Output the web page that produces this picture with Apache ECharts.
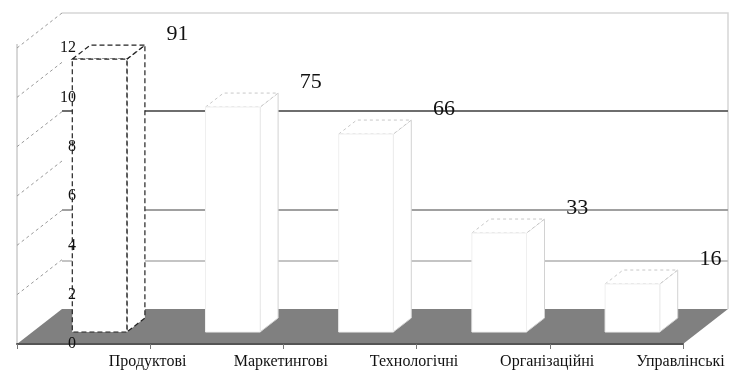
<!DOCTYPE html>
<html>
<head>
<meta charset="utf-8">
<script src="https://cdn.jsdelivr.net/npm/echarts@6/dist/echarts.min.js"></script>
<style>
  html, body { margin: 0; padding: 0; background: #fff; }
  #chart { width: 744px; height: 380px; }
</style>
</head>
<body>
<div id="chart"></div>
<script>
var categories = ['Продуктові', 'Маркетингові', 'Технологічні', 'Організаційні', 'Управлінські'];
var values = [91, 75, 66, 33, 16];
var yTicks = [0, 2, 4, 6, 8, 10, 12];
var wallLines = [66, 33, 16];

// fake 3d: offsets of the planes behind the front axis
var WALL = [45, -35];
var BAR_FRONT = [16, -12];
var BAR_DEPTH = [18, -14];
var wallColors = ['#6e6e6e', '#a0a0a0', '#c4c4c4'];

function renderWalls(params, api) {
  var cs = params.coordSys;
  var y0 = api.coord([0, 0])[1];
  var x0 = cs.x, x1 = cs.x + cs.width;
  var dx = WALL[0], dy = WALL[1];
  var top = cs.y + dy;
  var children = [];
  children.push({
    type: 'polygon',
    shape: { points: [[x0, y0], [x1, y0], [x1 + dx, y0 + dy], [x0 + dx, y0 + dy]] },
    style: { fill: '#808080' }
  });
  children.push({
    type: 'polyline',
    shape: { points: [[x0 + dx, top], [x1 + dx, top], [x1 + dx, y0 + dy]] },
    style: { stroke: '#d6d6d6', lineWidth: 1.5, fill: null }
  });
  wallLines.forEach(function (v, i) {
    var y = api.coord([0, v])[1] + dy;
    children.push({
      type: 'line',
      shape: { x1: x0 + dx, y1: y, x2: x1 + dx, y2: y },
      style: { stroke: wallColors[i], lineWidth: 2 }
    });
  });
  return { type: 'group', children: children };
}

function renderSide(params, api) {
  var cs = params.coordSys;
  var dx = WALL[0], dy = WALL[1];
  var children = [];
  var yTop = api.coord([0, yTicks[yTicks.length - 1]])[1];
  var yBot = api.coord([0, 0])[1];
  children.push({
    type: 'line',
    shape: { x1: cs.x, y1: yTop - 4, x2: cs.x, y2: yBot },
    style: { stroke: '#b0b0b0', lineWidth: 1 }
  });
  yTicks.forEach(function (t) {
    if (t === 0) return;
    var y = api.coord([0, t])[1];
    children.push({
      type: 'line',
      shape: { x1: cs.x, y1: y, x2: cs.x + dx, y2: y + dy },
      style: { stroke: '#9a9a9a', lineWidth: 1, lineDash: [3, 3] }
    });
  });
  return { type: 'group', children: children };
}

function renderBar(params, api) {
  var i = api.value(0), v = api.value(1);
  var base = api.coord([i, 0]);
  var topP = api.coord([i, v]);
  var w = api.size([1, 0])[0] * 0.41;
  var cx = base[0] + BAR_FRONT[0];
  var yb = base[1] + BAR_FRONT[1];
  var yt = topP[1] + BAR_FRONT[1];
  var l = cx - w / 2, r = cx + w / 2;
  var ddx = BAR_DEPTH[0], ddy = BAR_DEPTH[1];
  var first = i === 0;
  var edge = first ? { stroke: '#222', lineWidth: 1.2, lineDash: [5, 3] }
                   : { stroke: '#d2d2d2', lineWidth: 1 };
  var topEdge = first ? edge : { stroke: '#c8c8c8', lineWidth: 1, lineDash: [3, 3] };
  return {
    type: 'group',
    children: [
      { type: 'polygon',
        shape: { points: [[r, yt], [r + ddx, yt + ddy], [r + ddx, yb + ddy], [r, yb]] },
        style: Object.assign({ fill: '#fff' }, edge) },
      { type: 'polygon',
        shape: { points: [[l, yt], [l + ddx, yt + ddy], [r + ddx, yt + ddy], [r, yt]] },
        style: Object.assign({ fill: '#fff' }, topEdge) },
      { type: 'rect',
        shape: { x: l, y: yt, width: w, height: yb - yt },
        style: first ? Object.assign({ fill: '#fff' }, edge) : { fill: '#fff', stroke: '#efefef', lineWidth: 1 } },
      { type: 'text',
        style: {
          text: String(v),
          x: base[0] + 94, y: yt + ddy - 11,
          fill: '#111',
          font: '22px "Liberation Serif"',
          align: 'center', verticalAlign: 'middle',
          textAlign: 'center', textVerticalAlign: 'middle'
        } }
    ]
  };
}

var chart = echarts.init(document.getElementById('chart'));
chart.setOption({
  animation: false,
  backgroundColor: '#fff',
  grid: { left: 17, right: 61, top: 48, bottom: 36 },
  xAxis: {
    type: 'category',
    data: categories,
    z: 5,
    axisLine: { lineStyle: { color: '#555', width: 2 } },
    axisTick: { show: true, length: 5, lineStyle: { color: '#777' } },
    axisLabel: {
      margin: 10,
      padding: [0, 0, 0, 128],
      color: '#111',
      fontSize: 16,
      fontFamily: 'Liberation Serif'
    }
  },
  yAxis: [
    {
      type: 'value',
      min: yTicks[0],
      max: yTicks[yTicks.length - 1],
      interval: yTicks[1] - yTicks[0],
      z: 10,
      axisLine: { show: false },
      axisTick: { show: false },
      splitLine: { show: false },
      axisLabel: {
        margin: -59,
        color: '#111',
        fontSize: 16,
        fontFamily: 'Liberation Serif'
      }
    },
    {
      type: 'value',
      show: false,
      min: 0,
      max: 98.7,
      splitLine: { show: false }
    }
  ],
  series: [
    {
      type: 'custom',
      z: 1,
      yAxisIndex: 1,
      renderItem: renderWalls,
      data: [[0, 0]],
      silent: true
    },
    {
      type: 'custom',
      z: 1,
      yAxisIndex: 0,
      renderItem: renderSide,
      data: [[0, 0]],
      silent: true
    },
    {
      type: 'custom',
      z: 3,
      yAxisIndex: 1,
      renderItem: renderBar,
      data: values.map(function (v, i) { return [i, v]; })
    }
  ]
});
</script>
</body>
</html>
